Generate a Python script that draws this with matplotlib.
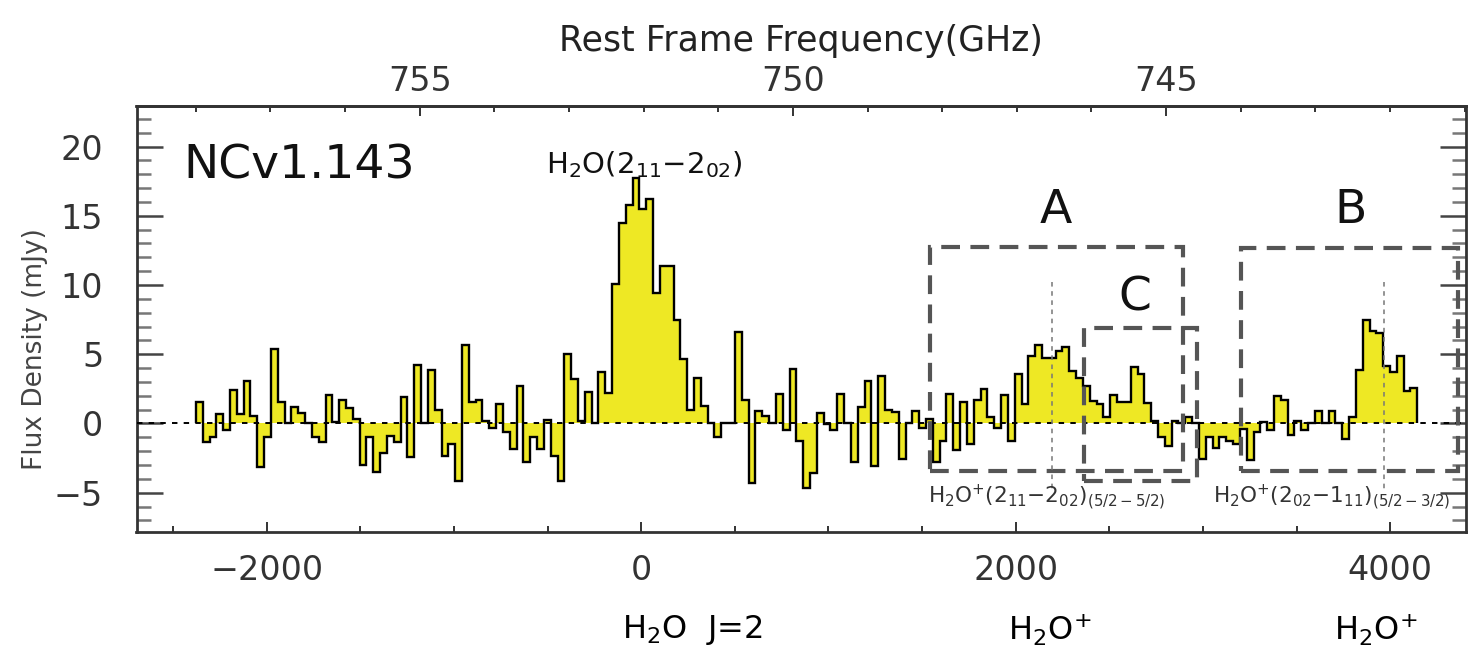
import numpy as np
import matplotlib
matplotlib.use("Agg")
import matplotlib.pyplot as plt
from matplotlib.patches import Rectangle
from matplotlib.ticker import MultipleLocator, FixedLocator

plt.rcParams['font.family'] = ['DejaVu Sans']

# ---------------- data ----------------
v_start = -2378.0      # km/s, left edge of first channel
chan_width = 36.44     # km/s channel width
flux = [
    1.55, -1.35, -1.0, 0.7, -0.5, 2.4, 0.65, 3.05, 0.55, -3.15,
    -1.0, 5.4, 1.55, 0.0, 1.2, 0.75, 0.0, -1.0, -1.35, 2.05,
    0.1, 1.7, 1.15, 0.35, -3.0, -1.0, -3.5, -2.15, -0.9, -1.35,
    1.9, -2.4, 4.2, 0.0, 3.85, 1.0, -2.35, -1.5, -4.15, 5.7,
    1.55, 1.7, 0.2, -0.3, 1.4, -0.65, -1.85, 2.7, -2.8, -0.95,
    -1.85, 0.25, -2.35, -4.15, 5.05, 3.2, 0.2, 2.25, 0.0, 3.7,
    2.2, 10.1, 14.5, 15.8, 17.7, 15.5, 16.2, 9.4, 11.4, 11.4,
    7.45, 4.65, 1.0, 3.25, 1.25, 0.0, -1.0, 0.0, 0.0, 6.6,
    1.7, -4.3, 0.9, 0.55, 0.0, 2.1, -0.5, 3.9, -1.3, -4.65,
    -3.6, 0.75, -0.05, -0.45, 2.1, 0.05, -2.75, 1.2, 3.1, -3.1,
    3.4, 1.0, 0.85, -2.6, 0.0, 0.9, -0.3, 0.35, -2.8, -1.3,
    2.15, -1.95, 1.55, -1.5, 1.7, 2.5, 0.5, -0.3, 2.05, -1.3,
    3.55, 1.4, 4.9, 5.7, 4.7, 4.7, 5.2, 5.55, 3.8, 3.3,
    2.7, 1.65, 1.4, 0.5, 2.05, 1.55, 1.55, 4.1, 3.6, 1.45,
    0.15, -1.0, -1.65, 0.15, 0.05, 0.5, 0.0, -2.6, -1.0, -1.8,
    -1.0, -1.25, -1.45, -0.4, -2.65, -0.65, 0.1, -0.45, 2.0, 1.68,
    -0.8, 0.17, -0.5, 0.05, 0.87, 0.0, 0.87, 0.0, -1.1, 0.5,
    3.85, 7.5, 6.7, 6.5, 4.15, 3.7, 4.9, 2.35, 2.55,
]

# rest frequency of H2O(2_11-2_02) used for the top axis
f0_ghz = 752.033
c_kms = 299792.458

# boxes: (v_left, v_right, y_bottom, y_top), labels
box_names = ['A', 'C', 'B']
box_v_left = [1544, 2367, 3206]
box_v_right = [2896, 2971, 4360]
box_y_bottom = [-3.45, -4.15, -3.45]
box_y_top = [12.75, 6.9, 12.7]
box_label_v = [2212, 2639, 3788]
box_label_y = [15.4, 9.05, 15.4]

# expected line positions (km/s) and their labels
line_v = [2196, 3965]
line_labels = [r'H$_2$O$^{+}$(2$_{11}$$-$2$_{02}$)$_{(5/2-5/2)}$',
               r'H$_2$O$^{+}$(2$_{02}$$-$1$_{11}$)$_{(5/2-3/2)}$']
line_label_v = [2164, 3687]

bottom_labels = [r'H$_2$O  J=2', r'H$_2$O$^{+}$', r'H$_2$O$^{+}$']
bottom_label_x = [692, 1050, 1376]   # pixel centres

edges = v_start + chan_width * np.arange(len(flux) + 1)

# ---------------- figure ----------------
W, H = 1468, 648
fig = plt.figure(figsize=(W / 100, H / 100), dpi=100)
ax_l, ax_r, ax_b, ax_t = 136.5, 1466.0, 532.0, 106.0
ax = fig.add_axes([ax_l / W, (H - ax_b) / H, (ax_r - ax_l) / W, (ax_b - ax_t) / H])

yellow = '#EEE824'
ax.stairs(flux, edges, baseline=0, fill=True, color=yellow, zorder=2)
ax.stairs(flux, edges, baseline=0, fill=False, color='black', lw=1.7, zorder=3)
ax.axhline(0, color='black', lw=1.4, ls=(0, (2.8, 3.2)), zorder=4)

ax.set_xlim(-2695, 4405)
ax.set_ylim(-7.84, 22.93)

# boxes
for vl, vr, yb, yt in zip(box_v_left, box_v_right, box_y_bottom, box_y_top):
    ax.add_patch(Rectangle((vl, yb), vr - vl, yt - yb, fill=False,
                           edgecolor='#555555', lw=3.0, ls=(0, (4.5, 2.5)),
                           zorder=5))
for name, lv, ly in zip(box_names, box_label_v, box_label_y):
    ax.text(lv, ly, name, fontsize=34, ha='center', va='center',
            color='#111111', zorder=6)

# expected line markers
for v in line_v:
    ax.plot([v, v], [10.25, -4.95], color='#777777', lw=1.1,
            ls=(0, (3, 3)), zorder=5)
for lab, lv in zip(line_labels, line_label_v):
    ax.text(lv, -5.35, lab, fontsize=15.5, ha='center', va='center',
            color='#333333', zorder=6)

ax.text(-2447, 17.7, 'NCv1.143', fontsize=34, ha='left', va='baseline',
        color='#111111')
ax.text(16, 18.1, r'H$_2$O(2$_{11}$$-$2$_{02}$)', fontsize=21, ha='center',
        va='baseline', color='#111111')

# ticks / spines
for s in ax.spines.values():
    s.set_linewidth(2.0)
    s.set_color('#333333')

ax.xaxis.set_major_locator(MultipleLocator(2000))
ax.xaxis.set_minor_locator(MultipleLocator(500))
ax.yaxis.set_major_locator(MultipleLocator(5))
ax.yaxis.set_minor_locator(MultipleLocator(1))
ax.tick_params(axis='y', which='both', direction='in', left=True, right=True,
               labelsize=24, labelcolor='#333333', pad=24)
ax.tick_params(axis='y', which='major', length=19, width=1.8, color='#444444')
ax.tick_params(axis='y', which='minor', length=10, width=1.8, color='#777777')
ax.tick_params(axis='x', which='both', direction='in', top=False, bottom=True,
               labelsize=24, labelcolor='#333333', pad=16, color='#333333')
ax.tick_params(axis='x', which='major', length=7, width=1.4)
ax.tick_params(axis='x', which='minor', length=4.5, width=1.4)

ax.set_ylabel('Flux Density (mJy)', fontsize=19, color='#444444')
ax.yaxis.set_label_coords((35 - ax_l) / (ax_r - ax_l), 0.43)
ax.yaxis.label.set_va('center')


def v2f(v):
    return f0_ghz * (1 - np.asarray(v) / c_kms)


def f2v(f):
    return c_kms * (1 - np.asarray(f) / f0_ghz)


sec = ax.secondary_xaxis('top', functions=(v2f, f2v))
sec.xaxis.set_major_locator(FixedLocator([755, 750, 745]))
sec.xaxis.set_minor_locator(FixedLocator(list(range(741, 759))))
sec.tick_params(axis='x', which='both', direction='in', labelsize=24,
                labelcolor='#333333', pad=6, color='#333333')
sec.tick_params(axis='x', which='major', length=7, width=1.4)
sec.tick_params(axis='x', which='minor', length=4.5, width=1.4)
sec.spines['top'].set_linewidth(2.0)
sec.spines['top'].set_color('#333333')
sec.set_xlabel('Rest Frame Frequency(GHz)', fontsize=25, color='#222222',
               labelpad=10)

for lab, px in zip(bottom_labels, bottom_label_x):
    fig.text(px / W, 1 / H, lab, fontsize=23, ha='center', va='bottom',
             color='black')

fig.savefig('out.png', dpi=100)
